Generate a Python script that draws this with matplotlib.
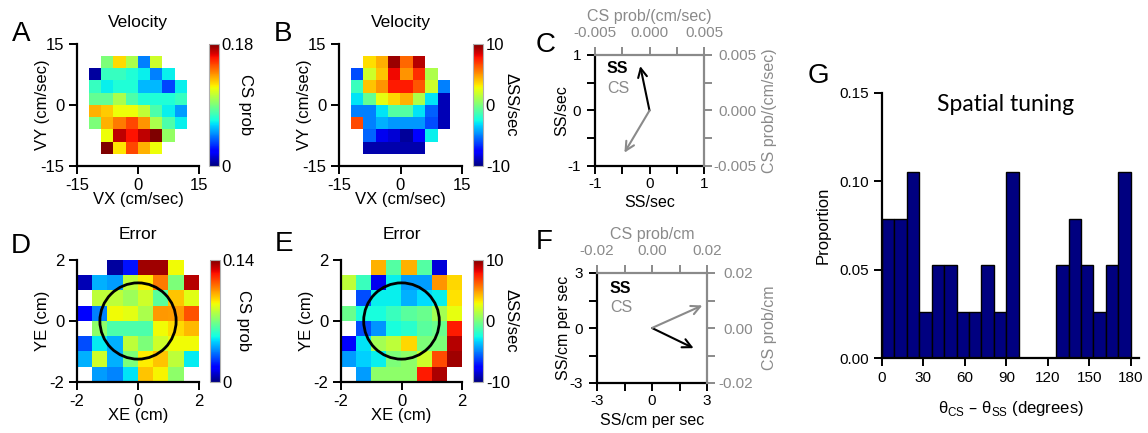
import numpy as np
import matplotlib
matplotlib.use("Agg")
import matplotlib.pyplot as plt
from matplotlib.patches import Circle

plt.rcParams['font.family'] = ['Liberation Sans', 'DejaVu Sans']
plt.rcParams['axes.unicode_minus'] = False

nan = np.nan

# ---------------- data ----------------
# Panel A: CS probability vs velocity (rows top -> bottom, VY 12..-12; cols VX -12..12)
cs_vel = [
    [nan, 0.090, 0.122, 0.100, 0.045, 0.108, nan, nan],
    [0.005, 0.075, 0.075, 0.070, 0.065, 0.045, 0.065, nan],
    [0.075, 0.065, 0.070, 0.070, 0.055, 0.055, 0.035, 0.065],
    [0.085, 0.085, 0.100, 0.080, 0.070, 0.070, 0.070, 0.075],
    [0.130, 0.125, 0.115, 0.115, 0.105, 0.080, 0.065, 0.050],
    [0.090, 0.130, 0.140, 0.150, 0.135, 0.100, 0.080, 0.065],
    [nan, 0.115, 0.170, 0.160, 0.170, 0.180, 0.095, nan],
    [nan, 0.180, 0.120, 0.150, 0.130, 0.115, nan, nan],
]
# Panel B: delta SS/sec vs velocity
ss_vel = [
    [nan, 3.5, 4.5, 9.5, 6.0, 9.0, nan, nan],
    [-6.0, 2.0, 4.0, 8.0, 5.0, 7.2, 1.2, nan],
    [-1.6, 4.0, 5.0, 7.6, 7.6, 6.4, 2.0, -5.0],
    [-3.0, -0.6, 2.6, 3.6, 4.4, 1.2, -3.0, -9.0],
    [-5.0, -5.0, -3.0, -1.0, -1.0, -3.0, -5.6, -9.0],
    [6.6, -5.0, -4.0, -4.5, -4.5, -4.5, -6.0, -9.0],
    [nan, -5.5, -8.0, -8.5, -9.5, -7.5, -2.8, nan],
    [nan, -9.2, -9.2, -9.2, -9.2, -9.2, nan, nan],
]
# Panel D: CS probability vs error position (rows YE 2..-2, cols XE -2..2)
cs_err = [
    [nan, nan, 0.004, 0.020, 0.136, 0.136, 0.090, nan],
    [0.007, 0.042, 0.039, 0.081, 0.092, 0.109, 0.070, 0.133],
    [nan, 0.081, 0.081, 0.076, 0.084, 0.064, 0.098, 0.087],
    [0.017, 0.035, 0.090, 0.088, 0.078, 0.105, 0.104, 0.115],
    [nan, 0.073, 0.062, 0.062, 0.062, 0.090, 0.095, 0.100],
    [0.028, 0.050, 0.042, 0.081, 0.070, 0.084, 0.090, 0.090],
    [0.042, 0.084, 0.042, 0.070, 0.092, 0.098, 0.081, 0.050],
    [nan, 0.039, 0.036, 0.049, 0.098, 0.091, 0.073, nan],
]
# Panel E: delta SS/sec vs error position
ss_err = [
    [nan, nan, 4.4, -1.0, 4.4, -1.0, -8.4, nan],
    [1.6, -1.6, -8.0, -2.8, -4.4, -4.4, 5.0, 3.6],
    [nan, -6.0, -2.8, -2.8, -4.0, -3.2, -2.8, 3.4],
    [-0.4, -2.4, -2.4, -1.6, -0.8, -0.4, 1.0, 2.6],
    [nan, -6.0, -4.6, -2.4, -2.0, -0.8, -0.4, 7.6],
    [-7.6, -3.0, 1.0, 1.6, 3.6, 0.0, 0.0, 9.0],
    [-4.4, -3.4, -2.8, 0.0, 0.4, 2.0, 6.6, 9.4],
    [nan, -4.4, 0.4, 0.4, 0.4, 7.6, 9.2, nan],
]
# Panels C and F: population vectors (x, y)
ss_vec_vel = (-0.17, 0.80)        # SS/sec
cs_vec_vel = (-0.0023, -0.0038)   # CS prob/(cm/sec)
ss_vec_err = (2.27, -1.10)        # SS/cm per sec
cs_vec_err = (0.0183, 0.0082)     # CS prob/cm
# Panel G: histogram of theta_CS - theta_SS
bin_edges = [0, 9, 18, 27, 36, 45, 54, 63, 72, 81, 90, 99, 108, 117, 126,
             135, 144, 153, 162, 171, 180]
proportion = [0.0789, 0.0789, 0.1053, 0.0263, 0.0526, 0.0526, 0.0263, 0.0263,
              0.0526, 0.0263, 0.1053, 0.0, 0.0, 0.0, 0.0526, 0.0789, 0.0526,
              0.0263, 0.0526, 0.1053]

# ---------------- layout ----------------
W, H = 1148, 433
fig = plt.figure(figsize=(W / 100, H / 100), dpi=100)


def rect(x0, y0, x1, y1):
    return [x0 / W, 1 - y1 / H, (x1 - x0) / W, (y1 - y0) / H]


GRAY = '#8a8a8a'
FS = 12


def style_axes(ax):
    for s in ['top', 'right']:
        ax.spines[s].set_visible(False)
    for s in ['left', 'bottom']:
        ax.spines[s].set_linewidth(1.6)
    ax.tick_params(direction='out', length=6, width=1.4, labelsize=FS, pad=3)


def heat(r_ax, r_cb, data, lim, half, vmin, vmax, ticks, cticks, cticklabels,
         title, title_pad, xlabel, ylabel, cblabel, cbx, circle=False):
    ax = fig.add_axes(rect(*r_ax))
    im = ax.imshow(np.array(data, dtype=float), extent=[-half, half, -half, half],
                   origin='upper', cmap='jet', vmin=vmin, vmax=vmax,
                   interpolation='nearest', aspect='auto')
    ax.set_xlim(-lim, lim)
    ax.set_ylim(-lim, lim)
    ax.set_xticks(ticks)
    ax.set_yticks(ticks)
    style_axes(ax)
    ax.set_title(title, fontsize=12.5, pad=title_pad)
    ax.set_xlabel(xlabel, fontsize=FS)
    ax.set_ylabel(ylabel, fontsize=FS)
    ax.yaxis.set_label_coords(-0.22, 0.5)
    ax.xaxis.set_label_coords(0.5, -0.21)
    if circle:
        ax.add_patch(Circle((0, 0), 1.25, fill=False, lw=2, ec='black'))
    cax = fig.add_axes(rect(*r_cb))
    cb = fig.colorbar(im, cax=cax, ticks=cticks)
    cb.ax.set_yticklabels(cticklabels)
    cb.ax.tick_params(length=0, labelsize=FS, pad=2)
    cb.outline.set_edgecolor('#b0b0b0')
    cb.outline.set_linewidth(0.8)
    yc = (r_cb[1] + r_cb[3]) / 2
    fig.text(cbx / W, 1 - yc / H, cblabel, rotation=270, ha='center', va='center',
             fontsize=FS)
    return ax


heat((77, 44, 199, 166), (209, 44, 219, 166), cs_vel, 15, 12, 0, 0.18,
     [-15, 0, 15], [0, 0.18], ['0', '0.18'], 'Velocity', 12, 'VX (cm/sec)',
     'VY (cm/sec)', 'CS prob', 246)
heat((339, 44, 462, 166), (473, 44, 483, 166), ss_vel, 15, 12, -10, 10,
     [-15, 0, 15], [-10, 0, 10], ['-10', '0', '10'], 'Velocity', 12, 'VX (cm/sec)',
     'VY (cm/sec)', 'ΔSS/sec', 511)
heat((77, 260, 199, 382), (210, 260, 220, 382), cs_err, 2, 2, 0, 0.14,
     [-2, 0, 2], [0, 0.14], ['0', '0.14'], 'Error', 15, 'XE (cm)', 'YE (cm)',
     'CS prob', 243, circle=True)
heat((341, 260, 462, 382), (473, 260, 483, 382), ss_err, 2, 2, -10, 10,
     [-2, 0, 2], [-10, 0, 10], ['-10', '0', '10'], 'Error', 15, 'XE (cm)', 'YE (cm)',
     'ΔSS/sec', 511, circle=True)


def vec_panel(r, lim, cslim, ss_vec, cs_vec, lim_lab, cs_labs, top_label,
              right_label, xlabel, ylabel, ss_xy, cs_xy, rpad, rlab_x, xlab_y):
    ax = fig.add_axes(rect(*r))
    ax.set_xlim(-lim, lim)
    ax.set_ylim(-lim, lim)
    tk = np.linspace(-lim, lim, 5)
    labs = ['-' + lim_lab, '', '0', '', lim_lab]
    ax.set_xticks(tk)
    ax.set_xticklabels(labs)
    ax.set_yticks(tk)
    ax.set_yticklabels(labs)
    for s in ['top', 'right']:
        ax.spines[s].set_visible(False)
    for s in ['left', 'bottom']:
        ax.spines[s].set_linewidth(1.6)
    ax.tick_params(direction='out', length=6, width=1.4, labelsize=11)
    ax.tick_params(axis='x', pad=2)
    ax.tick_params(axis='y', pad=4)
    ax.set_xlabel(xlabel, fontsize=11.5)
    ax.set_ylabel(ylabel, fontsize=11.5)
    ax.xaxis.set_label_coords(0.5, xlab_y)
    ax.yaxis.set_label_coords(-0.24, 0.5)
    ax.annotate('', xy=ss_vec, xytext=(0, 0),
                arrowprops=dict(arrowstyle='->', color='black', lw=1.5,
                                mutation_scale=16, shrinkA=0, shrinkB=0))
    ax.text(ss_xy[0], ss_xy[1], 'SS', fontsize=11.5, fontweight='bold',
            color='black', ha='left', va='center')
    ax.text(cs_xy[0], cs_xy[1], 'CS', fontsize=11.5, color=GRAY,
            ha='left', va='center')

    ax2 = fig.add_axes(rect(*r))
    ax2.patch.set_visible(False)
    ax2.set_xlim(-cslim, cslim)
    ax2.set_ylim(-cslim, cslim)
    ctk = np.linspace(-cslim, cslim, 5)
    clabs = [cs_labs[0], '', cs_labs[1], '', cs_labs[2]]
    ax2.xaxis.tick_top()
    ax2.yaxis.tick_right()
    ax2.set_xticks(ctk)
    ax2.set_xticklabels(clabs)
    ax2.set_yticks(ctk)
    ax2.set_yticklabels(clabs)
    for s in ['left', 'bottom']:
        ax2.spines[s].set_visible(False)
    for s in ['top', 'right']:
        ax2.spines[s].set_linewidth(1.6)
        ax2.spines[s].set_color(GRAY)
    ax2.tick_params(direction='out', length=6, width=1.4, labelsize=11,
                    colors=GRAY)
    ax2.tick_params(axis='x', pad=5)
    ax2.tick_params(axis='y', pad=rpad)
    for t in ax2.get_yticklabels():
        t.set_horizontalalignment('right')
    ax2.xaxis.set_label_position('top')
    ax2.yaxis.set_label_position('right')
    ax2.set_xlabel(top_label, fontsize=11.5, color=GRAY)
    ax2.set_ylabel(right_label, fontsize=11.5, color=GRAY)
    ax2.xaxis.set_label_coords(0.5, 1.31)
    ax2.yaxis.set_label_coords(rlab_x, 0.5)
    ax2.annotate('', xy=cs_vec, xytext=(0, 0),
                 arrowprops=dict(arrowstyle='->', color=GRAY, lw=1.5,
                                 mutation_scale=16, shrinkA=0, shrinkB=0))
    return ax


vec_panel((595, 55, 704, 166), 1, 0.005, ss_vec_vel, cs_vec_vel, '1',
          ['-0.005', '0.000', '0.005'], 'CS prob/(cm/sec)', 'CS prob/(cm/sec)',
          'SS/sec', 'SS/sec', (-0.78, 0.76), (-0.78, 0.40), 32, 1.53, -0.265)
vec_panel((597, 273, 707, 383), 3, 0.02, ss_vec_err, cs_vec_err, '3',
          ['-0.02', '0.00', '0.02'], 'CS prob/cm', 'CS prob/cm',
          'SS/cm per sec', 'SS/cm per sec', (-2.3, 2.15), (-2.3, 1.1), 27, 1.5,
          -0.27)

# Panel G
axg = fig.add_axes(rect(882, 93, 1139, 358))
axg.bar(bin_edges[:-1], proportion, width=np.diff(bin_edges), align='edge',
        color='#000080', edgecolor='black', linewidth=1)
axg.set_xlim(0, 186)
axg.set_ylim(0, 0.15)
axg.set_xticks([0, 30, 60, 90, 120, 150, 180])
axg.set_yticks([0, 0.05, 0.10, 0.15])
axg.set_yticklabels(['0.00', '0.05', '0.10', '0.15'])
style_axes(axg)
axg.tick_params(labelsize=11)
axg.set_ylabel('Proportion', fontsize=12)
axg.yaxis.set_label_coords(-0.2, 0.5)
axg.set_xlabel(r'θ$_{\mathregular{CS}}$ – θ$_{\mathregular{SS}}$ (degrees)', fontsize=12)
axg.xaxis.set_label_coords(0.5, -0.155)
axg.text(0.48, 0.955, 'Spatial tuning', transform=axg.transAxes, ha='center',
         va='center', fontsize=16.5, family=['Lato', 'DejaVu Sans'])

# Panel letters
for lt, (x, y) in {'A': (21, 34), 'B': (283, 34), 'C': (546, 45),
                   'D': (21, 246), 'E': (284, 244), 'F': (544, 242),
                   'G': (818, 76)}.items():
    fig.text(x / W, 1 - y / H, lt, fontsize=20, ha='center', va='center')

fig.savefig('out.png', dpi=100)
